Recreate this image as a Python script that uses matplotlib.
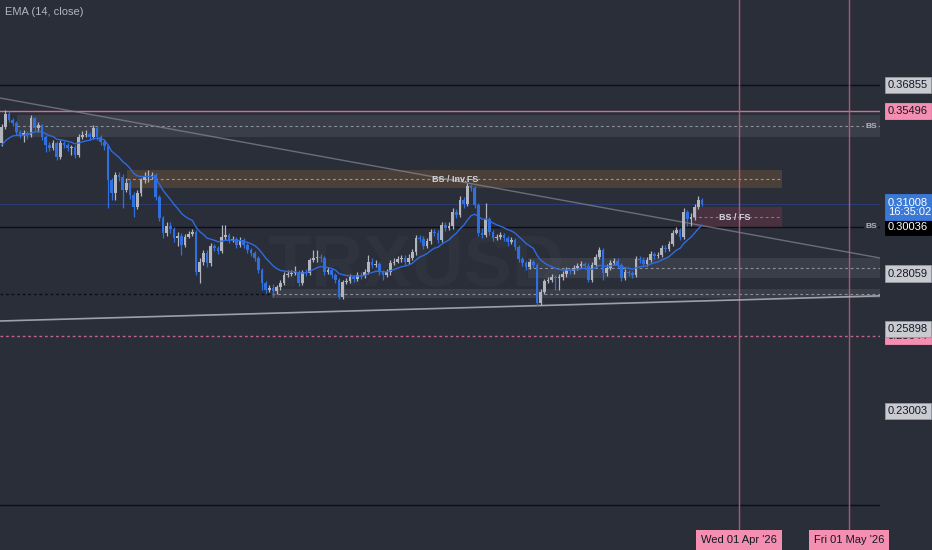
import matplotlib.pyplot as plt
import matplotlib.dates as mdates
import numpy as np
import pandas as pd

# ----- Données (bougies journalières) -----
START = "2025-09-12"
OPEN_0 = 0.3389
EMA_SEED = 0.3365  # valeur de l'EMA juste avant la première bougie visible

CLOSE = [
    0.3469, 0.3534, 0.3504, 0.3489, 0.3443, 0.3429, 0.3438, 0.3429, 0.3514, 0.3463,
    0.3479, 0.3419, 0.3379, 0.3365, 0.3389, 0.3321, 0.3389, 0.3379, 0.3365, 0.3369,
    0.3331, 0.3419, 0.3429, 0.3434, 0.3419, 0.3463, 0.3419, 0.3394, 0.3374, 0.3213,
    0.3153, 0.3236, 0.3227, 0.3166, 0.3199, 0.3144, 0.3090, 0.3153, 0.3213, 0.3227,
    0.3231, 0.3236, 0.3135, 0.3041, 0.2976, 0.3006, 0.2993, 0.2954, 0.2963, 0.2925,
    0.2959, 0.2971, 0.2980, 0.2813, 0.2854, 0.2891, 0.2850, 0.2921, 0.2912, 0.2899,
    0.2959, 0.2967, 0.2946, 0.2950, 0.2925, 0.2946, 0.2925, 0.2903, 0.2891, 0.2870,
    0.2821, 0.2768, 0.2740, 0.2748, 0.2736, 0.2752, 0.2768, 0.2800, 0.2804, 0.2809,
    0.2813, 0.2768, 0.2813, 0.2809, 0.2862, 0.2870, 0.2874, 0.2870, 0.2813, 0.2821,
    0.2800, 0.2780, 0.2713, 0.2772, 0.2776, 0.2792, 0.2784, 0.2800, 0.2796, 0.2813,
    0.2854, 0.2841, 0.2845, 0.2813, 0.2800, 0.2813, 0.2850, 0.2854, 0.2866, 0.2870,
    0.2854, 0.2870, 0.2895, 0.2954, 0.2950, 0.2921, 0.2942, 0.2980, 0.2976, 0.2946,
    0.3010, 0.2997, 0.3006, 0.3067, 0.3054, 0.3121, 0.3103, 0.3184, 0.3175, 0.3099,
    0.2976, 0.2967, 0.3036, 0.2980, 0.2954, 0.2959, 0.2967, 0.2954, 0.2938, 0.2946,
    0.2916, 0.2866, 0.2850, 0.2833, 0.2854, 0.2841, 0.2689, 0.2732, 0.2776, 0.2780,
    0.2792, 0.2788, 0.2792, 0.2804, 0.2821, 0.2817, 0.2829, 0.2837, 0.2845, 0.2837,
    0.2780, 0.2841, 0.2874, 0.2903, 0.2809, 0.2829, 0.2850, 0.2858, 0.2841, 0.2788,
    0.2813, 0.2809, 0.2800, 0.2866, 0.2862, 0.2845, 0.2862, 0.2887, 0.2879, 0.2883,
    0.2912, 0.2908, 0.2929, 0.2976, 0.2989, 0.2959, 0.3067, 0.3036, 0.3045, 0.3090,
    0.3121, 0.31008,
]
HIGH = [
    0.3484, 0.3555, 0.3550, 0.3514, 0.3499, 0.3453, 0.3453, 0.3448, 0.3529, 0.3519,
    0.3494, 0.3484, 0.3429, 0.3394, 0.3404, 0.3399, 0.3404, 0.3399, 0.3389, 0.3379,
    0.3379, 0.3434, 0.3448, 0.3453, 0.3443, 0.3479, 0.3474, 0.3429, 0.3404, 0.3384,
    0.3222, 0.3250, 0.3250, 0.3241, 0.3222, 0.3213, 0.3157, 0.3166, 0.3222, 0.3250,
    0.3259, 0.3250, 0.3245, 0.3144, 0.3050, 0.3023, 0.3023, 0.3002, 0.2980, 0.2976,
    0.2971, 0.2984, 0.2993, 0.2989, 0.2870, 0.2903, 0.2903, 0.2933, 0.2929, 0.2921,
    0.3010, 0.3010, 0.2976, 0.2963, 0.2959, 0.2959, 0.2954, 0.2933, 0.2912, 0.2899,
    0.2879, 0.2829, 0.2776, 0.2760, 0.2764, 0.2760, 0.2780, 0.2813, 0.2821, 0.2821,
    0.2837, 0.2821, 0.2821, 0.2825, 0.2870, 0.2903, 0.2903, 0.2887, 0.2879, 0.2833,
    0.2829, 0.2809, 0.2788, 0.2780, 0.2788, 0.2804, 0.2800, 0.2813, 0.2813, 0.2825,
    0.2883, 0.2870, 0.2862, 0.2854, 0.2821, 0.2825, 0.2862, 0.2870, 0.2879, 0.2883,
    0.2883, 0.2887, 0.2908, 0.2967, 0.2967, 0.2963, 0.2954, 0.2993, 0.2993, 0.2989,
    0.3023, 0.3023, 0.3023, 0.3085, 0.3081, 0.3139, 0.3135, 0.3199, 0.3194, 0.3184,
    0.3108, 0.2997, 0.3108, 0.3045, 0.2989, 0.2971, 0.2980, 0.2976, 0.2963, 0.2959,
    0.2954, 0.2925, 0.2874, 0.2858, 0.2866, 0.2862, 0.2850, 0.2744, 0.2784, 0.2792,
    0.2804, 0.2800, 0.2804, 0.2817, 0.2833, 0.2829, 0.2841, 0.2850, 0.2858, 0.2854,
    0.2850, 0.2854, 0.2887, 0.2916, 0.2912, 0.2845, 0.2862, 0.2870, 0.2870, 0.2850,
    0.2825, 0.2821, 0.2817, 0.2879, 0.2879, 0.2874, 0.2874, 0.2899, 0.2895, 0.2895,
    0.2925, 0.2925, 0.2942, 0.2989, 0.3002, 0.2997, 0.3085, 0.3076, 0.3063, 0.3103,
    0.3139, 0.3130,
]
LOW = [
    0.3374, 0.3458, 0.3494, 0.3474, 0.3429, 0.3414, 0.3394, 0.3409, 0.3419, 0.3448,
    0.3443, 0.3404, 0.3345, 0.3350, 0.3355, 0.3307, 0.3312, 0.3365, 0.3350, 0.3331,
    0.3317, 0.3321, 0.3409, 0.3419, 0.3404, 0.3409, 0.3404, 0.3379, 0.3355, 0.3085,
    0.3121, 0.3121, 0.3208, 0.3085, 0.3157, 0.3126, 0.3045, 0.3081, 0.3139, 0.3199,
    0.3203, 0.3217, 0.3121, 0.3028, 0.2954, 0.2963, 0.2976, 0.2938, 0.2921, 0.2883,
    0.2916, 0.2954, 0.2963, 0.2800, 0.2768, 0.2841, 0.2833, 0.2837, 0.2899, 0.2887,
    0.2891, 0.2946, 0.2933, 0.2938, 0.2912, 0.2916, 0.2912, 0.2891, 0.2879, 0.2858,
    0.2809, 0.2740, 0.2729, 0.2732, 0.2713, 0.2725, 0.2740, 0.2760, 0.2792, 0.2796,
    0.2800, 0.2756, 0.2760, 0.2796, 0.2800, 0.2854, 0.2854, 0.2854, 0.2800, 0.2804,
    0.2788, 0.2768, 0.2705, 0.2705, 0.2764, 0.2768, 0.2772, 0.2776, 0.2784, 0.2788,
    0.2804, 0.2829, 0.2833, 0.2800, 0.2780, 0.2792, 0.2800, 0.2841, 0.2850, 0.2854,
    0.2841, 0.2845, 0.2862, 0.2883, 0.2938, 0.2908, 0.2912, 0.2929, 0.2963, 0.2933,
    0.2938, 0.2984, 0.2989, 0.2993, 0.3041, 0.3045, 0.3085, 0.3094, 0.3162, 0.3085,
    0.2963, 0.2954, 0.2959, 0.2967, 0.2942, 0.2946, 0.2950, 0.2942, 0.2921, 0.2929,
    0.2903, 0.2854, 0.2837, 0.2821, 0.2825, 0.2829, 0.2677, 0.2681, 0.2725, 0.2768,
    0.2772, 0.2740, 0.2740, 0.2780, 0.2792, 0.2804, 0.2804, 0.2821, 0.2829, 0.2825,
    0.2772, 0.2772, 0.2833, 0.2866, 0.2780, 0.2796, 0.2821, 0.2841, 0.2829, 0.2776,
    0.2780, 0.2796, 0.2788, 0.2792, 0.2850, 0.2833, 0.2837, 0.2854, 0.2866, 0.2870,
    0.2874, 0.2895, 0.2899, 0.2921, 0.2971, 0.2946, 0.2950, 0.3006, 0.3006, 0.3032,
    0.3081, 0.3094,
]

# Zones (décalage en jours depuis START, prix bas / haut / milieu)
ZONE_START = [4.2, 34.2, 188.5, 143.5, 73.7]
ZONE_END = [239.5, 212.8, 212.8, 239.5, 239.5]
ZONE_LO = [0.3419, 0.3175, 0.3002, 0.2788, 0.2709]
ZONE_HI = [0.3529, 0.3259, 0.3090, 0.2870, 0.2744]
ZONE_MID = [0.3473, 0.3217, 0.3045, 0.2829, 0.2726]
ZONE_KIND = ["grey", "brown", "red", "grey", "grey"]

# Niveaux horizontaux
LEVEL_BLACK = [0.36855, 0.30036, 0.2008]
LEVEL_PINK = 0.35496
LEVEL_PINK_DOT = 0.25644
LAST_PRICE = 0.31008

# Lignes de tendance (décalage jours, prix)
TREND_X = [-0.464, 239.5]
TREND_DOWN = [0.3617, 0.2870]
TREND_UP = [0.2620, 0.2717]

VLINE_DATES = ["2026-04-01", "2026-05-01"]
VLINE_LABELS = ["Wed 01 Apr '26", "Fri 01 May '26"]

AXIS_LABELS = ["0.36855", "0.35496", "0.30036", "0.28059", "0.25644", "0.25898", "0.23003"]
AXIS_PRICES = [0.36855, 0.35496, 0.30036, 0.28059, 0.25644, 0.25898, 0.23003]
AXIS_KIND = ["grey", "pink", "black", "grey", "pink", "grey", "grey"]

# ----- Style -----
BG = "#2a2e39"
UP = "#b2b5be"
DOWN = "#2f6fe0"
TXT = "#d1d4dc"
PINK = "#e2799c"
FONT = "Liberation Sans"

dates = pd.date_range(START, periods=len(CLOSE), freq="D")
x = mdates.date2num(dates)
x0 = x[0]

fig = plt.figure(figsize=(9.32, 5.5), dpi=100, facecolor=BG)
ax = fig.add_axes([0, 20 / 550, 880 / 932, 530 / 550])
ax.set_facecolor(BG)
ax.set_yscale("log")
ax.set_ylim(0.19367, 0.41675)
ax.set_xlim(x0 + TREND_X[0], x0 + TREND_X[1])
ax.axis("off")

# filigrane
ax.text(x0 + 113, 0.2835, "TRXUSD", fontsize=52, fontweight="bold", color="#2f333e",
        ha="center", va="center", family=FONT, zorder=0)

# zones
zone_fill = {"grey": ("#b2b5be", 0.12), "brown": ("#a0703a", 0.28), "red": ("#a83a58", 0.25)}
zone_dash = {"grey": "#8d9099", "brown": "#c98a5c", "red": "#c4607a"}
for s, e, lo, hi, mid, kind in zip(ZONE_START, ZONE_END, ZONE_LO, ZONE_HI, ZONE_MID, ZONE_KIND):
    col, a = zone_fill[kind]
    ax.fill_between([x0 + s, x0 + e], lo, hi, color=col, alpha=a, lw=0, zorder=1)
    ax.plot([x0 + s, x0 + e], [mid, mid], color=zone_dash[kind], lw=0.8,
            dashes=(2.5, 2.5), zorder=1.5)
# pointillés noirs à gauche de la zone la plus basse
ax.plot([x0 + TREND_X[0], x0 + ZONE_START[4]], [ZONE_MID[4], ZONE_MID[4]],
        color="#0d0f14", lw=1, dashes=(2, 2), zorder=1.5)

# niveaux horizontaux
for lv in LEVEL_BLACK:
    ax.axhline(lv, color="#0d0f14", lw=1, zorder=1.6)
ax.axhline(LEVEL_PINK, color=PINK, lw=1, alpha=0.9, zorder=1.6)
ax.axhline(LEVEL_PINK_DOT, color="#c0648a", lw=1, dashes=(2, 2), zorder=1.6)
ax.axhline(LAST_PRICE, color="#2962ff", lw=0.8, alpha=0.3, zorder=1.6)

# lignes de tendance
ax.plot([x0 + t for t in TREND_X], TREND_DOWN, color="#868993", lw=1, alpha=0.7, zorder=1.7)
ax.plot([x0 + t for t in TREND_X], TREND_UP, color="#b2b5be", lw=1.2, alpha=0.85, zorder=1.7)

# lignes verticales de dates
for d in VLINE_DATES:
    ax.axvline(mdates.date2num(pd.Timestamp(d)), color="#c45e80", lw=1, alpha=0.85, zorder=1.6)

# bougies
opens = np.array([OPEN_0] + CLOSE[:-1])
closes = np.array(CLOSE)
colors = np.where(closes >= opens, UP, DOWN)
ax.vlines(x, LOW, HIGH, colors=colors, lw=0.9, zorder=3)
body_lo = np.minimum(opens, closes)
body_h = np.maximum(np.abs(closes - opens), 0.00035)
ax.bar(x, body_h, bottom=body_lo, width=0.72, color=colors, linewidth=0, zorder=3)

# EMA 14
ema = []
prev = EMA_SEED
for c in CLOSE:
    prev = prev + 2 / 15 * (c - prev)
    ema.append(prev)
ax.plot(x, ema, color="#2f6be0", lw=1.0, zorder=4)

# étiquettes des zones
ax.text(x0 + 123.6, 0.3213, "BS / Inv.FS", fontsize=6.5, fontweight="bold", color=TXT,
        ha="center", va="center", family=FONT, zorder=5)
ax.text(x0 + 200, 0.3043, "BS / FS", fontsize=6.5, fontweight="bold", color=TXT,
        ha="center", va="center", family=FONT, zorder=5)
for p in (ZONE_MID[0], LEVEL_BLACK[1]):
    ax.text(x0 + 237.1, p, "BS", fontsize=6, fontweight="bold", color="#b2b5be",
            ha="center", va="center", family=FONT, zorder=5,
            bbox=dict(boxstyle="square,pad=0.15", fc=BG if p == LEVEL_BLACK[1] else "#3b3e48", ec="none"))

# étiquettes de l'échelle de prix
ytr = ax.get_yaxis_transform()
label_style = {
    "grey": dict(fc="#c9cbd1", ec="#9598a1", tc="#131722"),
    "pink": dict(fc="#f48fb1", ec="#f48fb1", tc="#131722"),
    "black": dict(fc="#000000", ec="#000000", tc="#ffffff"),
}
for lab, p, kind in zip(AXIS_LABELS, AXIS_PRICES, AXIS_KIND):
    st = label_style[kind]
    ax.text(1.009, p, lab, transform=ytr, fontsize=8, color=st["tc"], ha="left", va="center",
            family=FONT, clip_on=False, zorder=6,
            bbox=dict(boxstyle="square,pad=0.3", fc=st["fc"], ec=st["ec"], lw=0.6))
ax.annotate(f"{LAST_PRICE:.5f}\n16:35:02", xy=(1.009, LAST_PRICE), xycoords=ytr,
            xytext=(0, 5), textcoords="offset points", fontsize=8, color="#ffffff",
            ha="left", va="top", family=FONT, linespacing=0.95, annotation_clip=False,
            zorder=7, bbox=dict(boxstyle="square,pad=0.3", fc="#3a78d6", ec="#3a78d6", lw=0.6))

# étiquettes de dates en bas
xtr = ax.get_xaxis_transform()
for d, lab in zip(VLINE_DATES, VLINE_LABELS):
    ax.text(mdates.date2num(pd.Timestamp(d)), -0.019, lab, transform=xtr, fontsize=8,
            color="#131722", ha="center", va="center", family=FONT, clip_on=False,
            bbox=dict(boxstyle="square,pad=0.45", fc="#f48fb1", ec="none"))

fig.text(5 / 932, 1 - 12 / 550, "EMA (14, close)", fontsize=8, color="#b2b5be",
         ha="left", va="center", family=FONT)

fig.savefig("out.png", dpi=100, facecolor=BG)
